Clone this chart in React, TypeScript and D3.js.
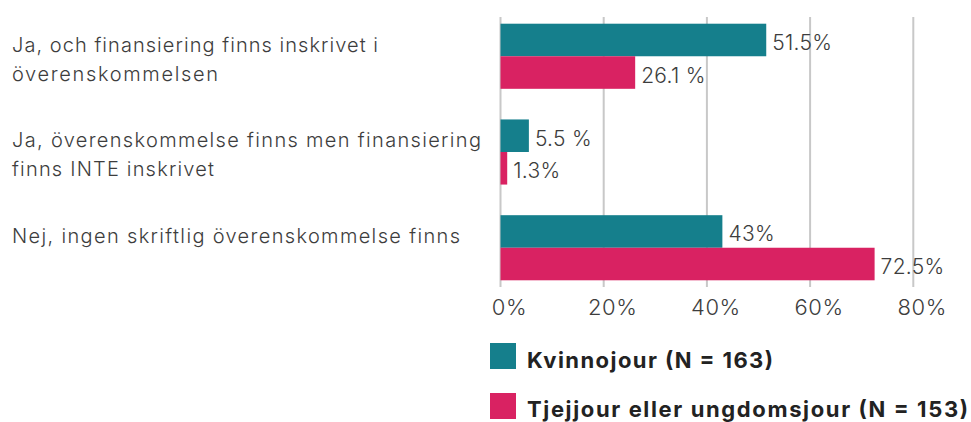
import React from "react";
import * as d3 from "d3";

const categoryLines: string[][] = [
  ["Ja, och finansiering finns inskrivet i", "överenskommelsen"],
  ["Ja, överenskommelse finns men finansiering", "finns INTE inskrivet"],
  ["Nej, ingen skriftlig överenskommelse finns"],
];
const categoryKeys = ["A", "B", "C"];
const kvinnojour = [51.5, 5.5, 43];
const kvinnojourLabels = ["51.5%", "5.5 %", "43%"];
const tjejjour = [26.1, 1.3, 72.5];
const tjejjourLabels = ["26.1 %", "1.3%", "72.5%"];
const xTicks = [0, 20, 40, 60, 80];
const seriesNames = ["Kvinnojour (N = 163)", "Tjejjour eller ungdomsjour (N = 153)"];

// layout: rendered text widths matching the reference typography
const categoryLineWidths = [[366, 206], [469, 202], [448]];
const legendWidths = [246, 441];

const W = 971;
const H = 422;
const TEAL = "#157F8C";
const PINK = "#D92262";
const TEXT = "#3d3d3d";
const FONT = "Inter, 'Open Sans', sans-serif";

export default function App() {
  const x = d3.scaleLinear().domain([0, 80]).range([500.5, 913.3]);
  const y = d3
    .scaleBand<string>()
    .domain(categoryKeys)
    .range([17, 287])
    .paddingInner(0.32)
    .paddingOuter(0.07);
  const bw = y.bandwidth() / 2;
  const series = [
    { vals: kvinnojour, labels: kvinnojourLabels, color: TEAL },
    { vals: tjejjour, labels: tjejjourLabels, color: PINK },
  ];
  return (
    <svg
      width={W}
      height={H}
      style={{ position: "absolute", left: 0, top: 0, background: "#fff" }}
      fontFamily={FONT}
    >
      {xTicks.map((t) => (
        <line key={t} x1={x(t)} x2={x(t)} y1={17} y2={287} stroke="#c8c8c8" strokeWidth={2} />
      ))}
      {xTicks.map((t) => (
        <text
          key={"l" + t}
          x={x(t) + 9}
          y={314.5}
          textAnchor="middle"
          fontSize={22}
          fontWeight={300}
          fill={TEXT}
          letterSpacing={0.6}
        >
          {t + "%"}
        </text>
      ))}
      {categoryKeys.map((k, i) => (
        <g key={k}>
          {series.map((s, j) => (
            <g key={j}>
              <rect
                x={x(0)}
                y={(y(k) as number) + j * bw}
                width={x(s.vals[i]) - x(0)}
                height={bw}
                fill={s.color}
              />
              <text
                x={x(s.vals[i]) + 6}
                y={(y(k) as number) + j * bw + bw / 2 + 10}
                fontSize={21}
                fontWeight={300}
                fill={TEXT}
                letterSpacing={0.3}
              >
                {s.labels[i]}
              </text>
            </g>
          ))}
          {categoryLines[i].map((ln, li) => (
            <text
              key={li}
              x={12}
              y={(y(k) as number) + 28 + li * 29}
              fontSize={20}
              fontWeight={300}
              fill={TEXT}
              textLength={categoryLineWidths[i][li]}
            >
              {ln}
            </text>
          ))}
        </g>
      ))}
      {seriesNames.map((n, i) => (
        <g key={n}>
          <rect x={490} y={343 + i * 50} width={26} height={26} fill={series[i].color} />
          <text
            x={527}
            y={368 + i * 49}
            fontSize={22}
            fontWeight={700}
            fill="#222"
            textLength={legendWidths[i]}
          >
            {n}
          </text>
        </g>
      ))}
    </svg>
  );
}
